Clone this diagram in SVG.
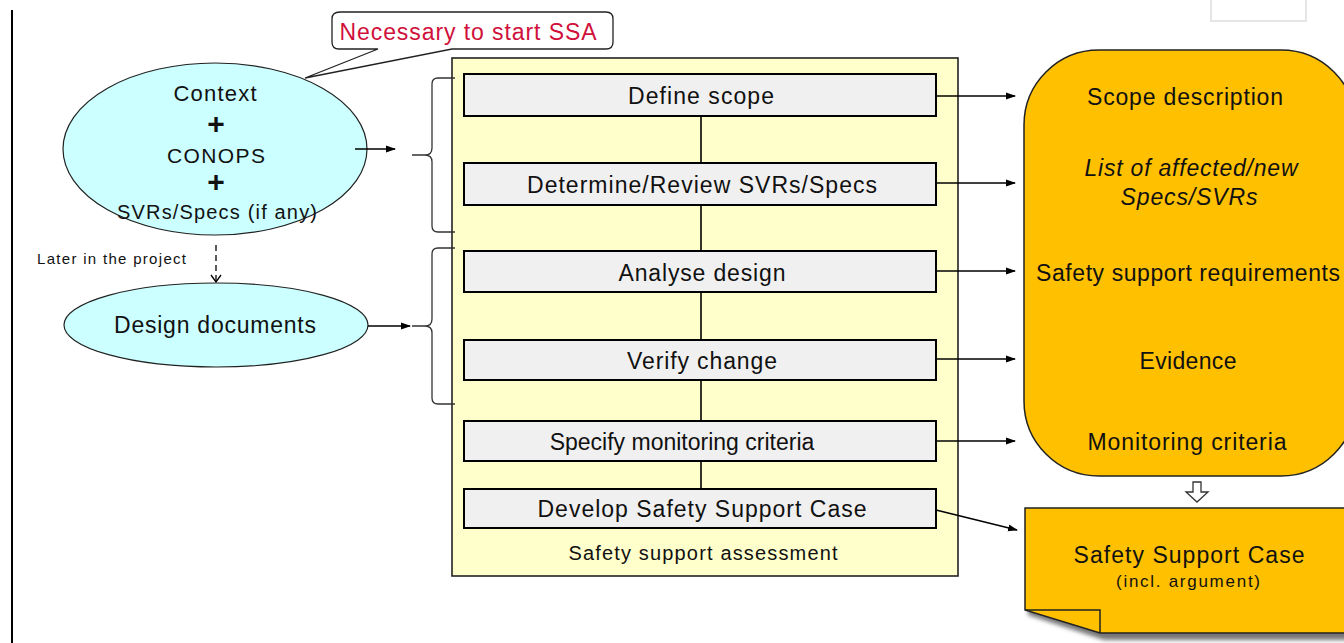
<svg xmlns="http://www.w3.org/2000/svg" width="1344" height="643" viewBox="0 0 1344 643">
<defs>
<marker id="ah" markerWidth="10" markerHeight="8" refX="9" refY="4" orient="auto" markerUnits="userSpaceOnUse">
<path d="M0,0.5 L10,4 L0,7.5 Z" fill="#000"/>
</marker>
<marker id="ao" markerWidth="12" markerHeight="10" refX="6" refY="9" orient="0" markerUnits="userSpaceOnUse">
<path d="M1,2 L6,9 L11,2" fill="none" stroke="#000" stroke-width="1.3"/>
</marker>
<filter id="sh" x="-10%" y="-10%" width="130%" height="130%">
<feGaussianBlur stdDeviation="2"/>
</filter>
</defs>
<style>
text{font-family:"Liberation Sans",Arial,sans-serif;fill:#111}
.t{font-size:23px;text-anchor:middle}
.s{font-size:20px;text-anchor:middle}
.ell{fill:#CCFFFF;stroke:#222;stroke-width:1.2}
.proc{fill:#F0F0F0;stroke:#000;stroke-width:2}
.out{fill:#FFC000;stroke:#222;stroke-width:1.5}
.ln{fill:none;stroke:#000;stroke-width:1.6}
.br{fill:none;stroke:#333;stroke-width:1.3}
</style>
<rect width="1344" height="643" fill="#fff"/>
<line x1="12" y1="10" x2="12" y2="643" stroke="#000" stroke-width="2"/>
<rect x="1211" y="-2" width="95" height="23" fill="#fff" stroke="#ddd" stroke-width="1.5"/>

<g id="callout">
<path d="M340,12 H606 Q613,12 613,19 V42 Q613,49 606,49 H452 L305,78 L378,49 H339 Q332,49 332,42 V19 Q332,12 340,12 Z" fill="#fff" stroke="#222" stroke-width="1.3"/>
<text x="468" y="40" class="t" style="fill:#D0103A;font-size:23px" textLength="257" lengthAdjust="spacing">Necessary to start SSA</text>
</g>

<g id="context">
<ellipse cx="215" cy="149" rx="152" ry="86" class="ell"/>
<text x="215" y="101" class="t" style="font-size:22px" textLength="83" lengthAdjust="spacing">Context</text>
<text x="216" y="134" class="t" style="font-size:30px;font-weight:bold">+</text>
<text x="216" y="163" class="t" style="font-size:21px" textLength="98" lengthAdjust="spacing">CONOPS</text>
<text x="216" y="192" class="t" style="font-size:30px;font-weight:bold">+</text>
<text x="217" y="219" class="t" style="font-size:20px" textLength="200" lengthAdjust="spacing">SVRs/Specs (if any)</text>
</g>

<text x="37" y="264" style="font-size:15px" textLength="149" lengthAdjust="spacing">Later in the project</text>

<g id="design">
<ellipse cx="216" cy="325" rx="152" ry="42" class="ell"/>
<text x="215" y="333" class="t" textLength="202" lengthAdjust="spacing">Design documents</text>
</g>

<g id="ssa">
<rect x="452" y="58" width="506" height="518" fill="#FFFFCC" stroke="#222" stroke-width="1.6"/>
<text x="703" y="560" class="s" textLength="269" lengthAdjust="spacing">Safety support assessment</text>
</g>

<g id="connectors">
<line x1="701" y1="116" x2="701" y2="489" class="ln"/>
<line x1="355" y1="149" x2="395" y2="149" class="ln" marker-end="url(#ah)"/>
<line x1="368" y1="326" x2="410" y2="326" class="ln" marker-end="url(#ah)"/>
<path d="M455,78 H438 Q432,78 432,84 V148 Q432,155 425,155 H412 M412,155 H425 Q432,155 432,162 V226 Q432,232 438,232 H455" class="br"/>
<path d="M455,248 H438 Q432,248 432,254 V319 Q432,326 425,326 H412 M425,326 Q432,326 432,333 V398 Q432,404 438,404 H455" class="br"/>
<line x1="216" y1="245" x2="216" y2="282" stroke="#000" stroke-width="1.3" stroke-dasharray="6,4" marker-end="url(#ao)"/>
<line x1="936" y1="96" x2="1015" y2="96" class="ln" marker-end="url(#ah)"/>
<line x1="936" y1="183" x2="1015" y2="183" class="ln" marker-end="url(#ah)"/>
<line x1="936" y1="271" x2="1015" y2="271" class="ln" marker-end="url(#ah)"/>
<line x1="936" y1="359" x2="1015" y2="359" class="ln" marker-end="url(#ah)"/>
<line x1="936" y1="441" x2="1015" y2="441" class="ln" marker-end="url(#ah)"/>
<line x1="936" y1="510" x2="1017" y2="530" class="ln" marker-end="url(#ah)"/>
<path d="M1193,482 H1201 V492 H1208 L1197,502 L1186,492 H1193 Z" fill="#fff" stroke="#333" stroke-width="1.3"/>
</g>

<g id="p1"><rect x="464" y="74" width="472" height="42" class="proc"/><text x="701" y="104" class="t" textLength="146" lengthAdjust="spacing">Define scope</text></g>
<g id="p2"><rect x="464" y="163" width="472" height="42" class="proc"/><text x="702" y="193" class="t" textLength="350" lengthAdjust="spacing">Determine/Review  SVRs/Specs</text></g>
<g id="p3"><rect x="464" y="251" width="472" height="41" class="proc"/><text x="702" y="281" class="t" textLength="167" lengthAdjust="spacing">Analyse design</text></g>
<g id="p4"><rect x="464" y="340" width="472" height="40" class="proc"/><text x="702" y="369" class="t" textLength="150" lengthAdjust="spacing">Verify change</text></g>
<g id="p5"><rect x="464" y="421" width="472" height="40" class="proc"/><text x="682" y="450" class="t">Specify monitoring criteria</text></g>
<g id="p6"><rect x="464" y="489" width="472" height="39" class="proc"/><text x="702" y="517" class="t" textLength="329" lengthAdjust="spacing">Develop Safety Support Case</text></g>

<g id="outputs">
<rect x="1024" y="50" width="332" height="426" rx="75" ry="75" class="out"/>
<text x="1185" y="105" class="t" textLength="196" lengthAdjust="spacing">Scope description</text>
<text x="1191" y="176" class="t" style="font-style:italic" textLength="213" lengthAdjust="spacing">List of affected/new</text>
<text x="1189" y="205" class="t" style="font-style:italic" textLength="137" lengthAdjust="spacing">Specs/SVRs</text>
<text x="1188" y="281" class="t" textLength="304" lengthAdjust="spacing">Safety support requirements</text>
<text x="1188" y="369" class="t" textLength="97" lengthAdjust="spacing">Evidence</text>
<text x="1187" y="450" class="t" textLength="199" lengthAdjust="spacing">Monitoring  criteria</text>
</g>

<g id="ssc">
<path d="M1028,513 H1350 V640 H1104 L1028,615 Z" fill="#777" filter="url(#sh)"/>
<path d="M1025,508 H1346 V633 H1100 L1025,610 Z" class="out"/>
<path d="M1025,610 H1100 V633" fill="none" stroke="#222" stroke-width="1.5"/>
<text x="1189" y="563" class="t" textLength="231" lengthAdjust="spacing">Safety Support Case</text>
<text x="1188" y="587" class="s" style="font-size:17px" textLength="144" lengthAdjust="spacing">(incl. argument)</text>
</g>
</svg>
